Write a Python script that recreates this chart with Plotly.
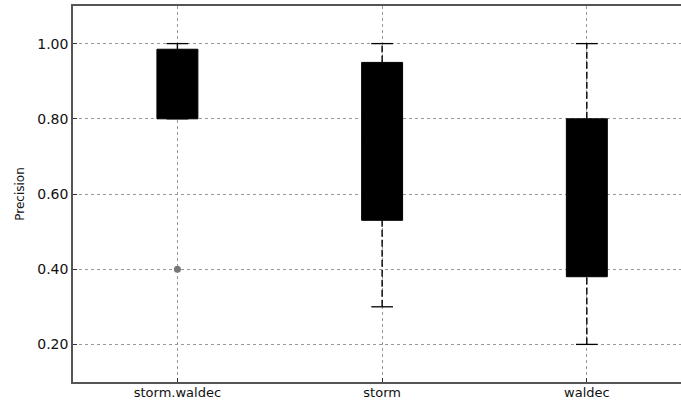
import plotly.graph_objects as go

categories = ["storm.waldec", "storm", "waldec"]
q1 = [0.80, 0.53, 0.38]
median = [0.90, 0.75, 0.60]
q3 = [0.985, 0.95, 0.80]
lower = [0.80, 0.30, 0.20]
upper = [1.00, 1.00, 1.00]
outlier_cat = [0]
outlier_val = [0.40]
y_ticks = [0.2, 0.4, 0.6, 0.8, 1.0]

pos = list(range(len(categories)))
box_w = 0.2
cap_half = 0.053

fig = go.Figure()

# dashed whiskers and caps
for i in pos:
    for a, b in ((q3[i], upper[i]), (lower[i], q1[i])):
        if b > a:
            fig.add_trace(go.Scatter(x=[i, i], y=[a, b], mode="lines",
                                     line=dict(color="black", width=1.4, dash="7px,3px"),
                                     showlegend=False, hoverinfo="skip"))
    for v in (upper[i], lower[i]):
        fig.add_trace(go.Scatter(x=[i - cap_half, i + cap_half], y=[v, v], mode="lines",
                                 line=dict(color="black", width=1.3),
                                 showlegend=False, hoverinfo="skip"))

for i in pos:
    fig.add_trace(go.Box(x=[i], q1=[q1[i]], median=[median[i]], q3=[q3[i]],
                         lowerfence=[q1[i]], upperfence=[q3[i]],
                         width=box_w, whiskerwidth=0,
                         fillcolor="black", line=dict(color="black", width=1),
                         boxpoints=False, showlegend=False))

fig.add_trace(go.Scatter(x=outlier_cat, y=outlier_val, mode="markers",
                         marker=dict(color="#777777", size=7),
                         showlegend=False))

fig.update_layout(
    width=681, height=400,
    margin=dict(l=73, r=0, t=6, b=18, autoexpand=False),
    paper_bgcolor="white", plot_bgcolor="white",
    font=dict(family="DejaVu Sans", size=13, color="#111"),
    xaxis=dict(range=[-0.51, 2.46], tickmode="array", tickvals=pos, ticktext=categories,
               showgrid=True, gridcolor="#999", griddash="dot", gridwidth=1,
               showline=True, mirror=True, linecolor="#555", linewidth=1.5,
               ticks="inside", ticklen=4, tickcolor="#333", zeroline=False,
               automargin=False, ticklabelstandoff=-2, tickfont=dict(size=13)),
    yaxis=dict(range=[0.1, 1.1], tickmode="array", tickvals=y_ticks,
               ticktext=[f"{v:.2f}" for v in y_ticks],
               showgrid=True, gridcolor="#999", griddash="dot", gridwidth=1,
               showline=True, linecolor="#555", linewidth=1.5,
               ticks="inside", ticklen=4, tickcolor="#333", zeroline=False,
               automargin=False,
               title=dict(text="Precision", font=dict(size=12), standoff=10),
               tickfont=dict(size=14)),
)

fig.write_html("out.html", config={"displayModeBar": False},
               post_script="document.body.style.margin='0';")
